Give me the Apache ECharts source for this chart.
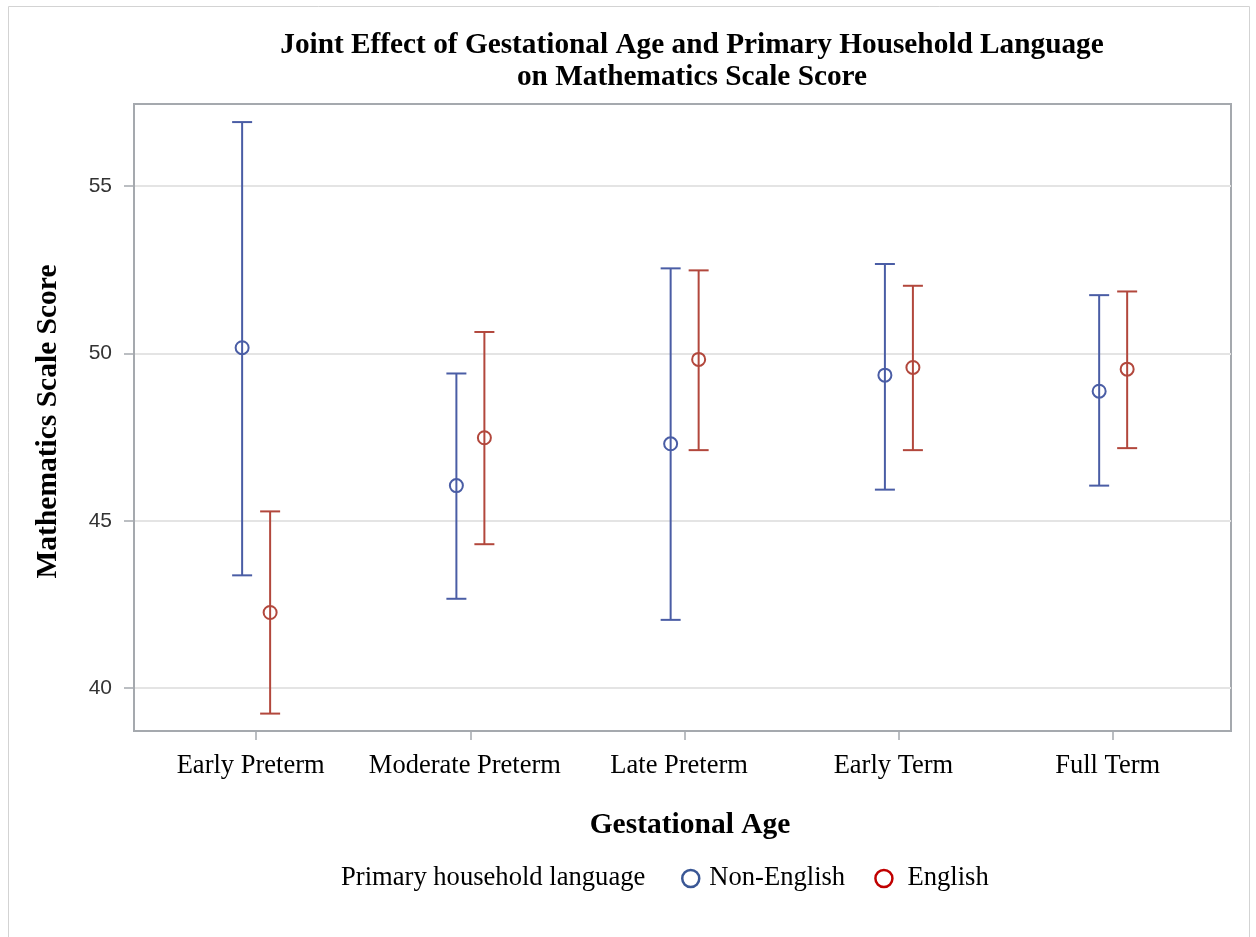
<!DOCTYPE html>
<html>
<head>
<meta charset="utf-8">
<script src="https://cdn.jsdelivr.net/npm/echarts@6/dist/echarts.min.js"></script>
<style>
html,body{margin:0;padding:0;background:#fff;}
#chart{width:1256px;height:937px;}
</style>
</head>
<body>
<div id="chart"></div>
<script>
const categories = ['Early Preterm', 'Moderate Preterm', 'Late Preterm', 'Early Term', 'Full Term'];
const nonEnglishMean  = [50.17, 46.05, 47.30, 49.35, 48.87];
const nonEnglishLower = [43.37, 42.67, 42.04, 45.93, 46.05];
const nonEnglishUpper = [56.91, 49.40, 52.54, 52.67, 51.74];
const englishMean  = [42.26, 47.48, 49.82, 49.58, 49.53];
const englishLower = [39.24, 44.30, 47.11, 47.11, 47.17];
const englishUpper = [45.28, 50.64, 52.48, 52.02, 51.85];
const yTicks = [40, 45, 50, 55];
const xTicks = [0, 1, 2, 3, 4];

const blue = '#4A5DA5';
const red = '#B2473C';
const legendBlue = '#3A5795';
const legendRed = '#C00000';

function buildData(mean, lower, upper) {
  return categories.map((c, i) => [i, mean[i], lower[i], upper[i]]);
}

function makeRender(color, offset) {
  return function (params, api) {
    const i = api.value(0);
    const pm = api.coord([i, api.value(1)]);
    const pl = api.coord([i, api.value(2)]);
    const pu = api.coord([i, api.value(3)]);
    const x = pm[0] + offset;
    const cap = 10;
    const r = 6.5;
    const style = { stroke: color, lineWidth: 2, fill: null };
    return {
      type: 'group',
      children: [
        { type: 'line', shape: { x1: x, y1: pu[1], x2: x, y2: pl[1] }, style: style },
        { type: 'line', shape: { x1: x - cap, y1: pu[1], x2: x + cap, y2: pu[1] }, style: style },
        { type: 'line', shape: { x1: x - cap, y1: pl[1], x2: x + cap, y2: pl[1] }, style: style },
        { type: 'circle', shape: { cx: x, cy: pm[1], r: r }, style: { stroke: color, lineWidth: 2, fill: null } }
      ]
    };
  };
}

const chart = echarts.init(document.getElementById('chart'), null, { renderer: 'canvas' });
const option = {
  backgroundColor: '#fff',
  animation: false,
  title: {
    text: 'Joint Effect of Gestational Age and Primary Household Language\non Mathematics Scale Score',
    left: 687,
    top: 24,
    textAlign: 'center',
    textStyle: {
      fontFamily: 'Liberation Serif',
      fontWeight: 'bold',
      fontSize: 29.3,
      lineHeight: 32,
      color: '#000'
    }
  },
  graphic: [
    {
      type: 'rect',
      shape: { x: 8.5, y: 6.5, width: 1241, height: 945 },
      style: { fill: null, stroke: '#D3D3D3', lineWidth: 1 },
      silent: true
    },
    {
      type: 'text',
      left: 341,
      top: 865,
      style: {
        text: 'Primary household language',
        font: '26.6px "Liberation Serif"',
        fill: '#000'
      }
    }
  ],
  legend: {
    left: 676,
    top: 860,
    itemWidth: 17,
    itemHeight: 17,
    itemGap: 29,
    icon: 'circle',
    textStyle: { fontFamily: 'Liberation Serif', fontSize: 26.6, color: '#000' },
    data: [
      { name: 'Non-English', itemStyle: { color: '#fff', borderColor: legendBlue, borderWidth: 2.5 },
        textStyle: { padding: [0, 0, 0, 5] } },
      { name: 'English', itemStyle: { color: '#fff', borderColor: legendRed, borderWidth: 2.5 },
        textStyle: { padding: [0, 0, 0, 10] } }
    ]
  },
  grid: {
    left: 134,
    right: 25,
    top: 104,
    bottom: 206,
    show: true,
    borderColor: '#A5A9AE',
    borderWidth: 2,
    containLabel: false
  },
  xAxis: {
    type: 'value',
    min: -0.57,
    max: 4.55,
    name: 'Gestational Age',
    nameLocation: 'middle',
    nameGap: 79,
    nameTextStyle: { fontFamily: 'Liberation Serif', fontWeight: 'bold', fontSize: 29.5, color: '#000',
      padding: [0, 0, 0, 15] },
    axisLine: { show: true, onZero: false, lineStyle: { color: '#A5A9AE', width: 2 } },
    axisTick: { show: true, length: 9, customValues: xTicks, lineStyle: { color: '#A5A9AE', width: 1.5 } },
    axisLabel: {
      customValues: xTicks,
      margin: 22,
      fontFamily: 'Liberation Serif',
      fontSize: 26.5,
      color: '#000',
      padding: [0, 11, 0, 0],
      formatter: function (v) { return categories[Math.round(v)]; }
    },
    splitLine: { show: false }
  },
  yAxis: {
    type: 'value',
    min: 38.72,
    max: 57.45,
    name: 'Mathematics Scale Score',
    nameLocation: 'middle',
    nameGap: 71,
    nameTextStyle: { fontFamily: 'Liberation Serif', fontWeight: 'bold', fontSize: 29.5, color: '#000',
      padding: [0, 8, 0, 0] },
    axisLine: { show: true, onZero: false, lineStyle: { color: '#A5A9AE', width: 2 } },
    axisTick: { show: true, length: 10, customValues: yTicks, lineStyle: { color: '#A5A9AE', width: 1.5 } },
    axisLabel: {
      customValues: yTicks,
      margin: 22,
      fontFamily: 'Liberation Sans',
      fontSize: 21,
      color: '#333'
    },
    splitLine: { show: true, lineStyle: { color: '#E4E4E4', width: 2 } }
  },
  series: [
    {
      name: 'Non-English',
      type: 'custom',
      renderItem: makeRender(blue, -14),
      data: buildData(nonEnglishMean, nonEnglishLower, nonEnglishUpper),
      itemStyle: { color: legendBlue },
      encode: { x: 0, y: [1, 2, 3] },
      z: 3
    },
    {
      name: 'English',
      type: 'custom',
      renderItem: makeRender(red, 14),
      data: buildData(englishMean, englishLower, englishUpper),
      itemStyle: { color: legendRed },
      encode: { x: 0, y: [1, 2, 3] },
      z: 3
    }
  ]
};
chart.setOption(option);
</script>
</body>
</html>
